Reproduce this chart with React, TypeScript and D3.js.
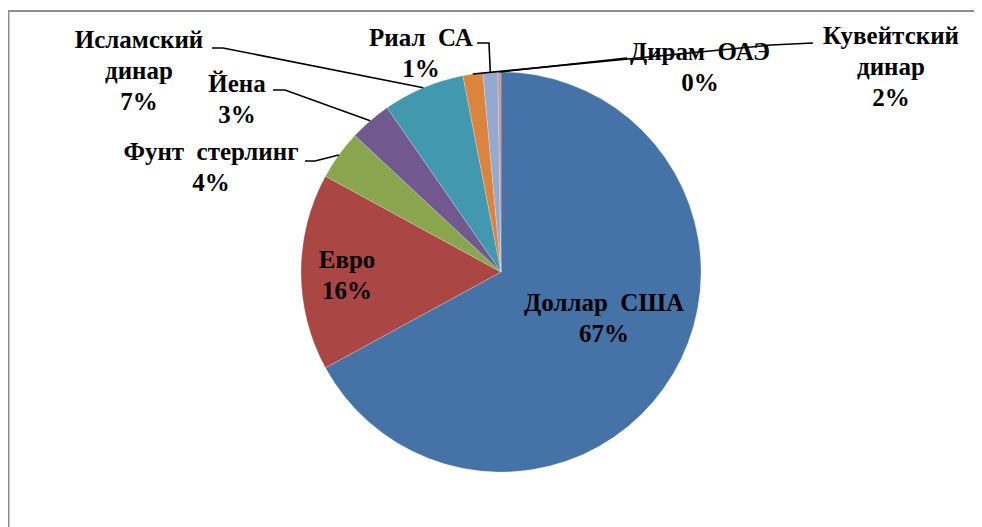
import * as d3 from "d3";

// currency shares (order as in the source sheet)
const currencies = [
  "Доллар США",
  "Евро",
  "Фунт стерлинг",
  "Йена",
  "Исламский динар",
  "Кувейтский динар",
  "Риал СА",
  "Дирам ОАЭ",
];
const shares = [67.05, 15.9, 4.0, 3.4, 6.6, 1.6, 1.2, 0.25];
const sliceColors = [
  "#4572A7",
  "#AA4643",
  "#89A54E",
  "#71588F",
  "#4198AF",
  "#DB843D",
  "#93A9CF",
  "#D19392",
];

// label lines (text split as in the picture, wide gap between words)
const labelLines = [
  ["Доллар\u00A0 США"],
  ["Евро"],
  ["Фунт\u00A0 стерлинг"],
  ["Йена"],
  ["Исламский", "динар"],
  ["Кувейтский", "динар"],
  ["Риал\u00A0 СА"],
  ["Дирам\u00A0 ОАЭ"],
];

// label placement: centre x, first baseline, leader start & elbow (null = inside label)
const labelLayout: { x: number; y: number; lead: [number, number][] | null }[] = [
  { x: 604, y: 311, lead: null },
  { x: 347, y: 268, lead: null },
  { x: 211, y: 160, lead: [[305, 161], [315, 161]] },
  { x: 237, y: 92, lead: [[273, 90], [285, 90]] },
  { x: 139, y: 48, lead: [[212, 48], [223, 48]] },
  { x: 891, y: 44, lead: [[813, 43], [771, 45]] },
  { x: 421, y: 46, lead: [[477, 43], [489, 43]] },
  { x: 700, y: 60, lead: [[627, 58], [627, 58]] },
];

const W = 982;
const H = 527;
const cx = 501;
const cy = 272;
const R = 200;
const lineH = 31;

type Datum = { name: string; value: number; i: number };

export default function App() {
  const data: Datum[] = currencies.map((name, i) => ({ name, value: shares[i], i }));
  const total = d3.sum(shares);
  const arcs = d3
    .pie<Datum>()
    .sort(null)
    .value((d) => d.value)
    .startAngle(0)
    .endAngle(2 * Math.PI)(data);
  const arc = d3.arc<d3.PieArcDatum<Datum>>().innerRadius(0).outerRadius(R);
  const line = d3.line();
  const fmt = (v: number) => `${Math.round((v / total) * 100)}%`;

  return (
    <svg width={W} height={H} style={{ display: "block", marginLeft: -8, marginTop: -8 }}>
      <rect width={W} height={H} fill="#fff" />
      {/* chart frame (runs off the right and bottom edges) */}
      <rect x={8.5} y={11} width={1100} height={700} fill="none" stroke="#8e8e8e" strokeWidth={2} />

      <g transform={`translate(${cx},${cy})`}>
        {arcs.map((a) => (
          <path
            key={a.data.name}
            d={arc(a) || ""}
            fill={sliceColors[a.data.i]}
            stroke="#fff"
            strokeOpacity={0.35}
            strokeWidth={0.6}
          />
        ))}
      </g>

      {/* leader lines to the middle of each slice's rim */}
      {arcs.map((a) => {
        const lay = labelLayout[a.data.i];
        if (!lay.lead) return null;
        const mid = (a.startAngle + a.endAngle) / 2;
        const end: [number, number] = [cx + R * Math.sin(mid), cy - R * Math.cos(mid)];
        return (
          <path
            key={"l" + a.data.name}
            d={line([...lay.lead, end]) || ""}
            fill="none"
            stroke="#000"
            strokeWidth={1.6}
          />
        );
      })}

      {arcs.flatMap((a) => {
        const lay = labelLayout[a.data.i];
        const lines = [...labelLines[a.data.i], fmt(a.data.value)];
        return lines.map((ln, k) => (
          <text
            key={"t" + a.data.name + k}
            x={lay.x}
            y={lay.y + k * lineH}
            textAnchor="middle"
            style={{ fontFamily: `"Liberation Serif"`, fontWeight: "bold", fontSize: 25 }}
          >
            {ln}
          </text>
        ));
      })}
    </svg>
  );
}
